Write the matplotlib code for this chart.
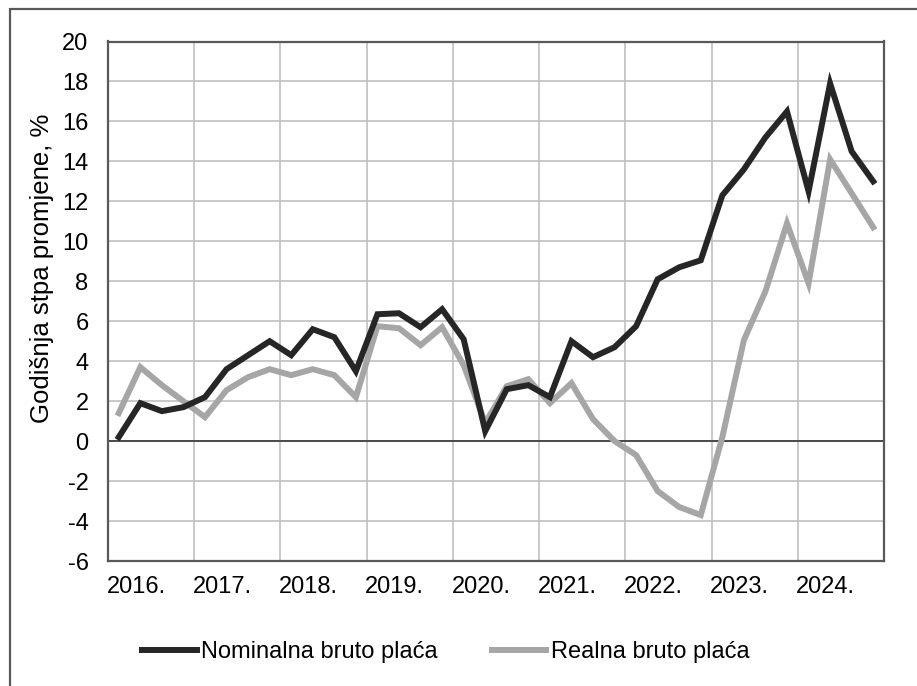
import numpy as np
import matplotlib
matplotlib.use("Agg")
import matplotlib.pyplot as plt
from matplotlib.patches import Rectangle

# ── Data (quarterly, 2016 Q1 - 2024 Q4) ──────────────────────────────────────
YEARS = ["2016.", "2017.", "2018.", "2019.", "2020.", "2021.", "2022.", "2023.", "2024."]

nominal = [0.2, 1.9, 1.5, 1.7, 2.2, 3.6, 4.3, 5.0,
           4.3, 5.6, 5.2, 3.5, 6.35, 6.4, 5.7, 6.6,
           5.1, 0.5, 2.6, 2.8, 2.2, 5.0, 4.2, 4.7,
           5.75, 8.1, 8.7, 9.05, 12.3, 13.6, 15.2, 16.5,
           12.5, 17.9, 14.5, 13.0]

real = [1.4, 3.7, 2.8, 2.0, 1.2, 2.55, 3.2, 3.6,
        3.3, 3.6, 3.3, 2.2, 5.75, 5.65, 4.8, 5.7,
        3.8, 0.9, 2.75, 3.1, 1.9, 2.9, 1.1, 0.0,
        -0.7, -2.5, -3.3, -3.7, 0.2, 5.05, 7.5, 10.9,
        7.9, 14.1, 12.4, 10.7]

NOM_COLOR  = "#262626"
REAL_COLOR = "#A6A6A6"
GRID_COLOR = "#C0C0C0"

plt.rcParams["font.family"] = ["Liberation Sans", "DejaVu Sans"]

W, H = 917, 686
fig = plt.figure(figsize=(W / 100, H / 100), dpi=100)
fig.patch.set_facecolor("white")

# outer frame (cropped on right/bottom)
fig.patches.append(Rectangle((10 / W, -0.1), 1.2, 1 - 9 / H + 0.1, transform=fig.transFigure,
                             fill=False, edgecolor="#595959", linewidth=1.6, zorder=0))

ax = fig.add_axes([108 / W, 1 - 561 / H, (884 - 108) / W, (561 - 41.5) / H])

x = np.arange(len(nominal))
ax.plot(x, nominal, color=NOM_COLOR, linewidth=4.3, solid_joinstyle="miter",
        label="Nominalna bruto plaća", zorder=4)
ax.plot(x, real, color=REAL_COLOR, linewidth=4.3, solid_joinstyle="miter",
        label="Realna bruto plaća", zorder=3)
ax.axhline(0, color="#404040", linewidth=1.3, zorder=2)

ax.set_xlim(-0.5, len(nominal) - 0.5)
ax.set_ylim(-6, 20)
ax.set_yticks(np.arange(-6, 21, 2))
ax.set_yticklabels([str(v) for v in range(-6, 21, 2)])

ax.set_xticks([4 * k + 0.8 for k in range(len(YEARS))])
ax.set_xticklabels(YEARS)
ax.set_xticks([4 * k - 0.5 for k in range(1, len(YEARS))], minor=True)

ax.grid(axis="y", which="major", color=GRID_COLOR, linewidth=1.2, zorder=0)
ax.grid(axis="x", which="minor", color=GRID_COLOR, linewidth=1.2, zorder=0)
ax.grid(axis="x", which="major", visible=False)
ax.tick_params(axis="both", which="both", length=0, labelsize=17, colors="black")
ax.tick_params(axis="y", pad=14)
ax.tick_params(axis="x", pad=11)
for s in ax.spines.values():
    s.set_color("#595959")
    s.set_linewidth(1.6)

fig.text(42 / W, 1 - 268 / H, "Godišnja stpa promjene, %", rotation=90,
         ha="center", va="center", fontsize=18.5)

fig.legend(loc="center", bbox_to_anchor=(446 / W, 1 - 652 / H), ncol=2,
           frameon=False, fontsize=17, handlelength=2.3, handletextpad=0.2,
           columnspacing=2.3)

fig.savefig("out.png", dpi=100, facecolor=fig.get_facecolor())
